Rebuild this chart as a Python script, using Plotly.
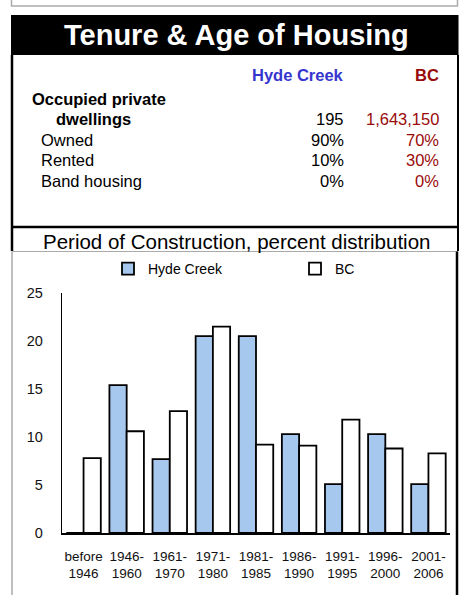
import plotly.graph_objects as go

W, H = 461, 595

periods = ["before<br>1946", "1946-<br>1960", "1961-<br>1970", "1971-<br>1980", "1981-<br>1985",
           "1986-<br>1990", "1991-<br>1995", "1996-<br>2000", "2001-<br>2006"]
hyde_creek = [0, 15.4, 7.7, 20.5, 20.5, 10.3, 5.1, 10.3, 5.1]
bc = [7.8, 10.6, 12.7, 21.5, 9.2, 9.1, 11.8, 8.8, 8.3]

table_rows = ["Owned", "Rented", "Band housing"]
table_hc = ["90%", "10%", "0%"]
table_bc = ["70%", "30%", "0%"]
dwellings_hc = "195"
dwellings_bc = "1,643,150"

FONT = "Liberation Sans, Arial, sans-serif"
BLUE = "#3636cf"
RED = "#990a0a"

def px(x):
    return x / W

def py(y):
    return 1 - y / H

fig = go.Figure()
fig.add_trace(go.Bar(name="Hyde Creek", x=periods, y=hyde_creek, legend="legend",
                     marker=dict(color="#a7c8ee", line=dict(color="black", width=1.8))))
fig.add_trace(go.Bar(name="BC", x=periods, y=bc, legend="legend2",
                     marker=dict(color="white", line=dict(color="black", width=1.8))))

shapes = []
# top gray box
shapes.append(dict(type="rect", xref="paper", yref="paper", x0=px(11.5), x1=px(457.5), y0=py(6), y1=py(-5),
                   line=dict(color="#aaaaaa", width=1.5), fillcolor="white"))
# black header
shapes.append(dict(type="rect", xref="paper", yref="paper", x0=px(11), x1=px(458.5), y0=py(55), y1=py(15),
                   line=dict(width=0), fillcolor="black"))
# table box borders
shapes.append(dict(type="line", xref="paper", yref="paper", x0=px(12), x1=px(12), y0=py(55), y1=py(251),
                   line=dict(color="black", width=2.5)))
shapes.append(dict(type="line", xref="paper", yref="paper", x0=px(458), x1=px(458), y0=py(55), y1=py(251),
                   line=dict(color="black", width=2)))
shapes.append(dict(type="line", xref="paper", yref="paper", x0=px(12), x1=px(458), y0=py(227), y1=py(227),
                   line=dict(color="black", width=2.5)))
# chart frame
shapes.append(dict(type="line", xref="paper", yref="paper", x0=px(12), x1=px(458), y0=py(251.5), y1=py(251.5),
                   line=dict(color="#aaaaaa", width=1)))
shapes.append(dict(type="line", xref="paper", yref="paper", x0=px(12), x1=px(12), y0=py(251.5), y1=py(600),
                   line=dict(color="#aaaaaa", width=1.5)))
shapes.append(dict(type="line", xref="paper", yref="paper", x0=px(457), x1=px(457), y0=py(251.5), y1=py(600),
                   line=dict(color="black", width=2.5)))

ann = []
def text(x, y, s, size=16.5, color="black", bold=False, anchor="left"):
    ann.append(dict(xref="paper", yref="paper", x=px(x), y=py(y), text=(f"<b>{s}</b>" if bold else s),
                    showarrow=False, xanchor=anchor, yanchor="middle",
                    font=dict(family=FONT, size=size, color=color)))

text(236, 34.5, "Tenure & Age of Housing", size=29, color="white", bold=True, anchor="center")
text(346, 74.5, "Hyde Creek", color=BLUE, bold=True, anchor="right")
text(441, 74.5, "BC", color=RED, bold=True, anchor="right")
text(30, 99.5, "Occupied private", bold=True)
text(54, 119.5, "dwellings", bold=True)
text(346, 119.5, dwellings_hc, anchor="right")
text(441, 119.5, dwellings_bc, color=RED, anchor="right")
for i, (r, a, b) in enumerate(zip(table_rows, table_hc, table_bc)):
    yy = 140 + i * 20.5
    text(39, yy, r)
    text(346, yy, a, anchor="right")
    text(441, yy, b, color=RED, anchor="right")
text(236, 241, "Period of Construction, percent distribution", size=20.5, anchor="center")

leg_common = dict(orientation="h", yanchor="middle", xanchor="left",
                  font=dict(family=FONT, size=14, color="black"), bgcolor="rgba(0,0,0,0)",
                  itemclick=False, itemdoubleclick=False, itemwidth=30, tracegroupgap=0)

fig.update_layout(
    width=W, height=H,
    margin=dict(l=0, r=0, t=0, b=0, pad=0, autoexpand=False),
    paper_bgcolor="white", plot_bgcolor="white",
    barmode="group", bargap=0.2, bargroupgap=0,
    shapes=shapes, annotations=ann,
    showlegend=True,
    legend=dict(x=px(108), y=py(269), **leg_common),
    legend2=dict(x=px(295), y=py(269), **leg_common),
    font=dict(family=FONT, color="black"),
    xaxis=dict(domain=[px(62), px(450)], showline=True, linecolor="black", linewidth=1.5,
               ticks="", tickfont=dict(size=13.5, family=FONT, color="#111"), ticklabelstandoff=10,
               showgrid=False, zeroline=False, automargin=False),
    yaxis=dict(domain=[py(533), py(293)], range=[0, 25], dtick=5, showline=True, linecolor="black",
               linewidth=1.2, ticks="", tickfont=dict(size=14.5, family=FONT, color="#111"),
               ticklabelstandoff=15, showgrid=False, zeroline=False, automargin=False),
)

fig.write_html("out.html", config={"displayModeBar": False, "staticPlot": True})

with open("out.html", "r", encoding="utf-8") as f:
    html = f.read()
html = html.replace("<head>", "<head><style>html,body{margin:0;padding:0;overflow:hidden;}</style>", 1)
with open("out.html", "w", encoding="utf-8") as f:
    f.write(html)
